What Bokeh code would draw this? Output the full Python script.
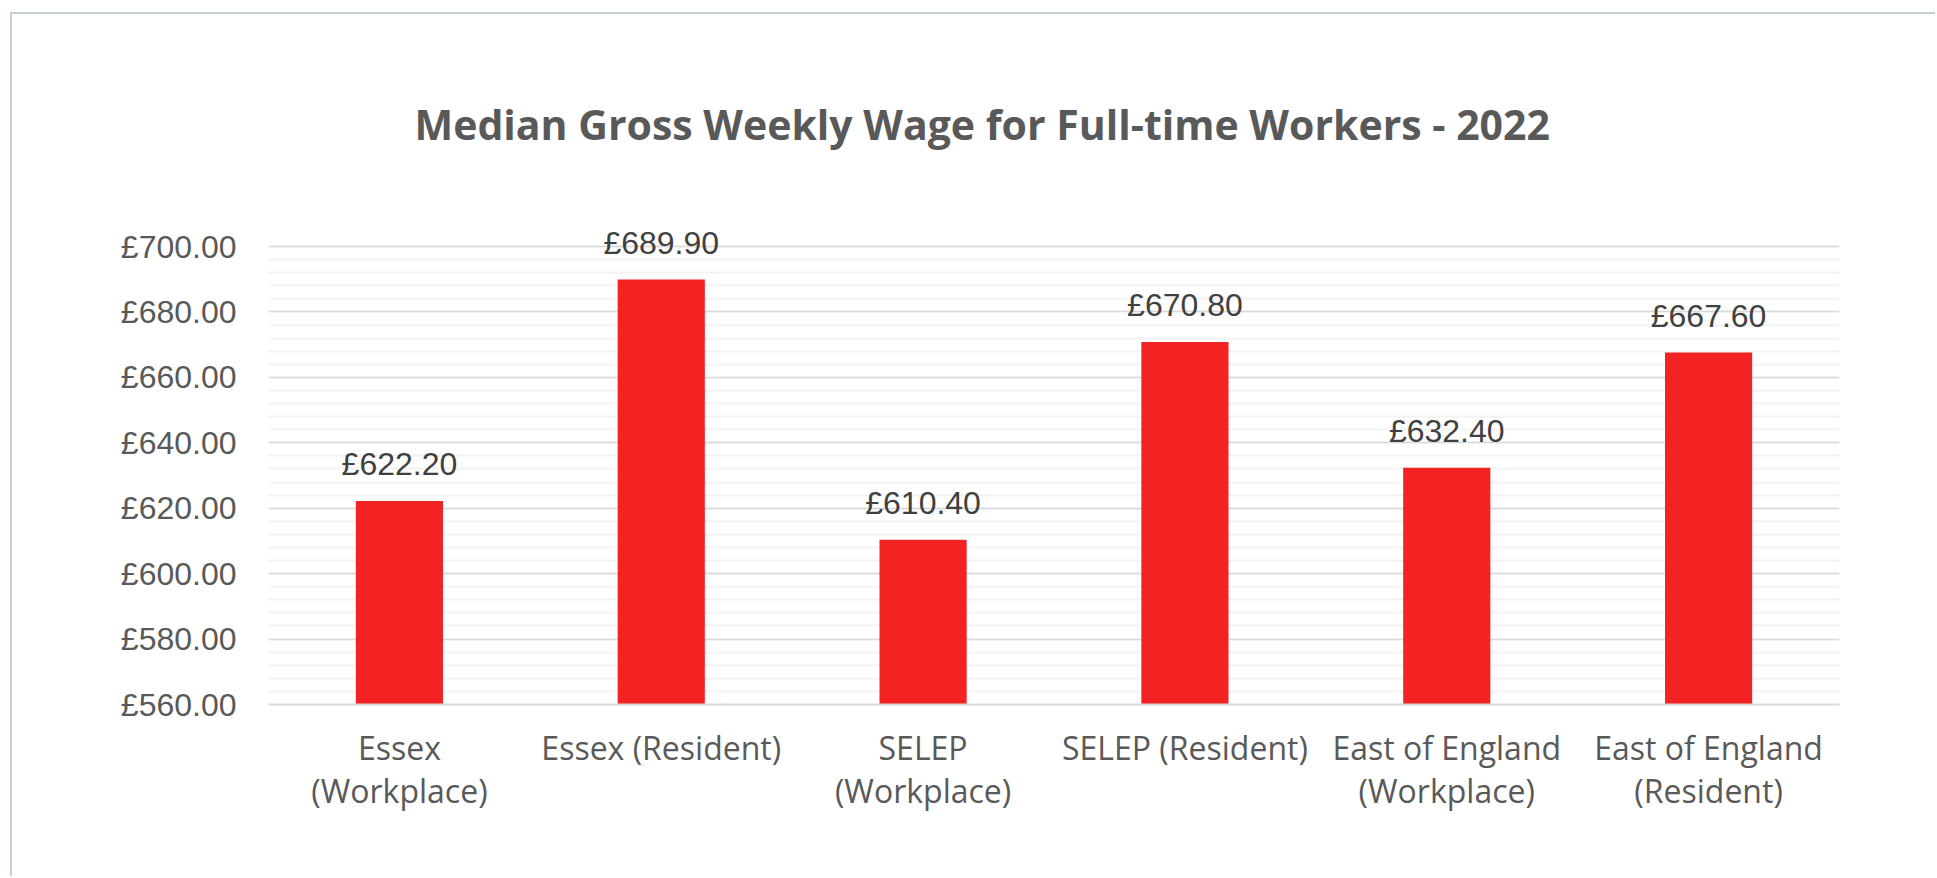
from bokeh.plotting import figure
from bokeh.models import FactorRange, Range1d, FixedTicker, ColumnDataSource
from bokeh.core.properties import value
from bokeh.embed import file_html
from bokeh.resources import INLINE

# ---- data ----
categories = ["Essex\n(Workplace)", "Essex (Resident)", "SELEP\n(Workplace)",
              "SELEP (Resident)", "East of England\n(Workplace)", "East of England\n(Resident)"]
wages = [622.20, 689.90, 610.40, 670.80, 632.40, 667.60]
wage_labels = ["£622.20", "£689.90", "£610.40", "£670.80", "£632.40", "£667.60"]
y_ticks = [560, 580, 600, 620, 640, 660, 680, 700]
y_tick_labels = ["£560.00", "£580.00", "£600.00", "£620.00", "£640.00", "£660.00", "£680.00", "£700.00"]
y_minor = [v for v in range(560, 701, 4)]
title_text = "Median Gross Weekly Wage for Full-time Workers - 2022"

src = ColumnDataSource(dict(cat=categories, wage=wages, lab=wage_labels))

p = figure(width=1925, height=864, x_range=FactorRange(*categories),
           y_range=Range1d(560, 715), output_backend="svg", toolbar_location=None,
           min_border_left=256, min_border_right=98, min_border_top=183,
           min_border_bottom=174)

p.styles = {"margin-left": "10px", "margin-top": "12px",
            "border-left": "2px solid #c5d0d0", "border-top": "2px solid #c5d0d0",
            "border-right": "0px none", "border-bottom": "0px none"}

p.background_fill_color = "white"
p.border_fill_color = "white"
p.outline_line_color = None

# title
p.title.text = title_text
p.title.align = "left"
p.title.offset = 146
p.title.standoff = 91
p.title.text_font = "Open Sans"
p.title.text_font_style = "bold"
p.title.text_font_size = "41px"
p.title.text_color = "#595959"

p.vbar(x="cat", top="wage", bottom=560, width=0.333, source=src,
       fill_color="#f32324", line_color=None)

p.text(x="cat", y="wage", text="lab", source=src, y_offset=-37,
       text_align="center", text_baseline="alphabetic",
       text_font=value("Liberation Sans"), text_font_size="32px", text_color="#404040")

# y axis
p.yaxis.ticker = FixedTicker(ticks=y_ticks, minor_ticks=y_minor)
p.yaxis.major_label_overrides = {t: l for t, l in zip(y_ticks, y_tick_labels)}
p.yaxis.axis_line_color = None
p.yaxis.major_tick_line_color = None
p.yaxis.minor_tick_line_color = None
p.yaxis.major_label_standoff = 26
p.yaxis.major_label_text_font = "Liberation Sans"
p.yaxis.major_label_text_font_size = "32px"
p.yaxis.major_label_text_color = "#595959"

p.ygrid.grid_line_color = "#d9d9d9"
p.ygrid.grid_line_width = 1.5
p.ygrid.minor_grid_line_color = "#f2f2f2"
p.ygrid.minor_grid_line_width = 2
p.xgrid.grid_line_color = None

# x axis
p.xaxis.axis_line_color = "#d9d9d9"
p.xaxis.axis_line_width = 2
p.xaxis.major_tick_line_color = None
p.xaxis.minor_tick_line_color = None
p.xaxis.major_label_standoff = 15
p.xaxis.major_label_text_font = "Open Sans"
p.xaxis.major_label_text_font_size = "32px"
p.xaxis.major_label_text_color = "#595959"
p.xaxis.major_label_text_line_height = 1.0
p.x_range.range_padding = 0

open("out.html", "w").write(file_html(p, INLINE))
